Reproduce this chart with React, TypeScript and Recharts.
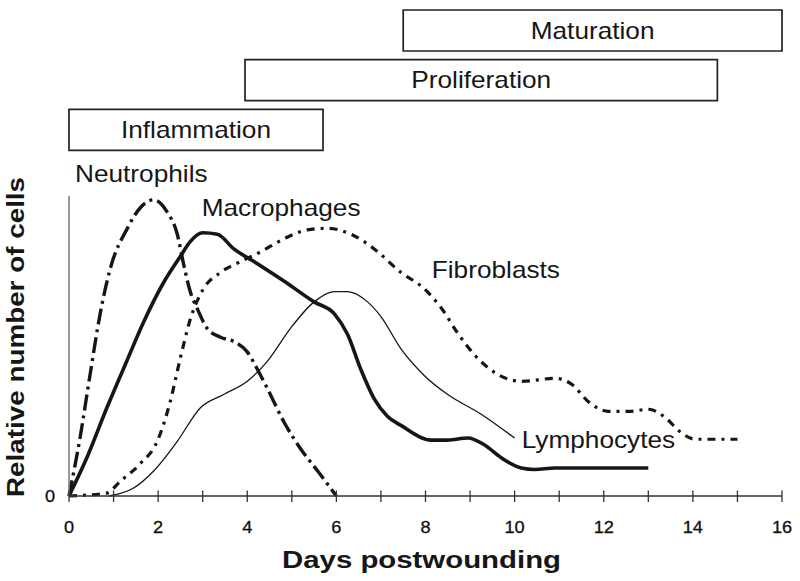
import React from 'react'
import {
  Bar,
  BarChart,
  LabelList,
  Line,
  LineChart,
  XAxis,
  YAxis,
} from 'recharts'

// wound healing phases (days)
const phaseNames = ['Maturation', 'Proliferation', 'Inflammation']
const phaseStart = [7.5, 3.95, 0]
const phaseEnd = [16, 14.55, 5.7]

const dayTicks = [0, 1, 2, 3, 4, 5, 6, 7, 8, 9, 10, 11, 12, 13, 14, 15, 16]

const neutrophilDays = [0, 0.25, 0.47, 0.7, 0.92, 1.31, 1.6, 1.9, 2.2, 2.43, 2.57, 2.72, 2.87, 3.1, 3.4, 3.7, 4.0, 4.23, 4.45, 4.83, 5.2, 5.58, 6.0]
const neutrophilValues = [0, 20, 41, 62, 77, 91, 98, 100.7, 96.6, 89, 79, 69.5, 64, 57, 54, 52.5, 49, 43, 36.6, 25, 16, 8.5, 0]

const macrophageDays = [0, 0.4, 0.85, 1.3, 1.67, 2.12, 2.5, 2.72, 3.0, 3.33, 3.7, 4.15, 4.83, 5.5, 5.95, 6.25, 6.55, 6.85, 7.15, 7.45, 8.13, 8.5, 8.95, 9.3, 9.7, 10.15, 10.45, 10.9, 13.0]
const macrophageValues = [0, 13, 30, 46, 59, 72.5, 81.5, 86.5, 89.5, 89, 84, 79.7, 73, 66, 62, 55, 43, 33, 27, 24, 19, 19, 19.7, 17.6, 13, 9.5, 9, 9.5, 9.5]

const fibroblastDays = [0, 0.85, 1.15, 1.6, 1.98, 2.27, 2.5, 2.72, 3.02, 3.4, 3.85, 4.3, 4.83, 5.35, 5.8, 6.33, 6.85, 7.45, 7.97, 8.35, 8.74, 9.1, 9.55, 10.15, 10.9, 11.28, 11.66, 12.1, 12.6, 13.0, 13.4, 13.7, 14.05, 15.0]
const fibroblastValues = [0, 1, 5, 11, 18.6, 32, 47, 60, 70.5, 76, 79.7, 83, 87.5, 90.5, 91, 89, 84, 76, 70.5, 64, 55, 48, 42, 39, 40, 38, 32, 28.8, 28.8, 29.5, 26.4, 22, 19.3, 19.3]

const lymphocyteDays = [0.9, 1.45, 1.9, 2.43, 2.95, 3.47, 4.0, 4.45, 4.97, 5.5, 5.95, 6.25, 6.7, 7.0, 7.45, 7.97, 8.5, 9.25, 10.0]
const lymphocyteValues = [0, 2.7, 8.5, 18.6, 30, 34.5, 39, 45.8, 57, 66, 69.5, 69.5, 66, 61, 50, 41, 34.5, 27.8, 19.7]

const FONT = "'Liberation Sans', Arial, Helvetica, sans-serif"
const INK = '#161616'
const WIDE = 1.14

const zip = (days: number[], values: number[]) =>
  days.map((day, i) => ({ day, value: values[i] }))

const phases = phaseNames.map((phase, i) => ({
  phase,
  span: [phaseStart[i], phaseEnd[i]],
}))

function PhaseLabel(props: any) {
  const { x, y, width, height, value } = props
  return (
    <text
      transform={`translate(${x + width / 2},${y + height / 2 + 8}) scale(${WIDE},1)`}
      textAnchor="middle"
      fontFamily={FONT}
      fontSize={23}
      fill={INK}
    >
      {value}
    </text>
  )
}

function seriesLabel(name: string, anchor: number, dx: number, dy: number) {
  return (props: any) => {
    if (props.index !== anchor) return null
    return (
      <text
        transform={`translate(${props.x + dx},${props.y + dy}) scale(${WIDE},1)`}
        fontFamily={FONT}
        fontSize={23}
        fill={INK}
      >
        {name}
      </text>
    )
  }
}

function DayTick(props: any) {
  const { x, y, payload } = props
  const day = payload.value
  return (
    <g>
      <line x1={x} x2={x} y1={y - 5.5} y2={y + 6} stroke="#333" strokeWidth={1.3} />
      {day % 2 === 0 && (
        <text
          transform={`translate(${x},${y + 37.3}) scale(1.1,1)`}
          textAnchor="middle"
          fontFamily={FONT}
          fontSize={16.5}
          fill="#111"
          stroke="#111"
          strokeWidth={0.3}
        >
          {day}
        </text>
      )}
    </g>
  )
}

function ZeroTick(props: any) {
  const { x, y, payload } = props
  return (
    <text
      transform={`translate(${x - 19},${y + 6}) scale(1.1,1)`}
      textAnchor="middle"
      fontFamily={FONT}
      fontSize={16.5}
      fill="#111"
      stroke="#111"
      strokeWidth={0.3}
    >
      {payload.value}
    </text>
  )
}

function XTitle(props: any) {
  const { viewBox } = props
  return (
    <text
      transform={`translate(${viewBox.x + viewBox.width / 2 - 4},${viewBox.y + 72}) scale(1.25,1)`}
      textAnchor="middle"
      fontFamily={FONT}
      fontSize={23.5}
      fontWeight="bold"
      fill={INK}
    >
      Days postwounding
    </text>
  )
}

function YTitle(props: any) {
  const { viewBox } = props
  return (
    <text
      transform={`translate(24,${viewBox.y + viewBox.height / 2 - 9}) rotate(-90) scale(1.16,1)`}
      textAnchor="middle"
      fontFamily={FONT}
      fontSize={24}
      fontWeight="bold"
      fill={INK}
    >
      Relative number of cells
    </text>
  )
}

export default function App() {
  const neutrophils = zip(neutrophilDays, neutrophilValues)
  const macrophages = zip(macrophageDays, macrophageValues)
  const fibroblasts = zip(fibroblastDays, fibroblastValues)
  const lymphocytes = zip(lymphocyteDays, lymphocyteValues)

  return (
    <div style={{ position: 'absolute', left: 0, top: 0, width: 800, height: 581, background: '#fff' }}>
      <div style={{ position: 'absolute', left: 0, top: 0 }}>
        <LineChart width={800} height={581} margin={{ top: 196, right: 18, bottom: 0, left: 0 }}>
          <XAxis
            type="number"
            dataKey="day"
            domain={[0, 16]}
            ticks={dayTicks}
            interval={0}
            height={85}
            tickSize={0}
            tickMargin={0}
            tick={<DayTick />}
            axisLine={{ stroke: '#333', strokeWidth: 1.5 }}
            label={{ content: <XTitle /> }}
          />
          <YAxis
            type="number"
            domain={[0, 102]}
            ticks={[0]}
            width={69}
            tickLine={false}
            tickSize={0}
            tickMargin={0}
            tick={<ZeroTick />}
            axisLine={{ stroke: '#777', strokeWidth: 1.5 }}
            label={{ content: <YTitle /> }}
          />
          <Line
            data={fibroblasts}
            dataKey="value"
            type="monotone"
            stroke={INK}
            strokeWidth={3.2}
            strokeDasharray="8 6 3 6"
            dot={false}
            activeDot={false}
            isAnimationActive={false}
            label={seriesLabel('Fibroblasts', 18, 7.6, -10.4)}
          />
          <Line
            data={lymphocytes}
            dataKey="value"
            type="monotone"
            stroke={INK}
            strokeWidth={1.3}
            dot={false}
            activeDot={false}
            isAnimationActive={false}
            label={seriesLabel('Lymphocytes', lymphocytes.length - 1, 7.1, 9.9)}
          />
          <Line
            data={neutrophils}
            dataKey="value"
            type="monotone"
            stroke={INK}
            strokeWidth={3.4}
            strokeDasharray="16 5 3 5"
            dot={false}
            activeDot={false}
            isAnimationActive={false}
            label={seriesLabel('Neutrophils', 7, -78.7, -18.1)}
          />
          <Line
            data={macrophages}
            dataKey="value"
            type="monotone"
            stroke={INK}
            strokeWidth={3.6}
            dot={false}
            activeDot={false}
            isAnimationActive={false}
            label={seriesLabel('Macrophages', 8, -1, -17)}
          />
        </LineChart>
      </div>
      <div style={{ position: 'absolute', left: 0, top: 0 }}>
        <BarChart
          width={800}
          height={160}
          layout="vertical"
          data={phases}
          margin={{ top: 6, right: 18, bottom: 5, left: 69 }}
        >
          <XAxis type="number" domain={[0, 16]} hide />
          <YAxis type="category" dataKey="phase" hide width={0} />
          <Bar
            dataKey="span"
            barSize={41}
            fill="#fff"
            stroke="#222"
            strokeWidth={1.7}
            isAnimationActive={false}
          >
            <LabelList dataKey="phase" content={<PhaseLabel />} />
          </Bar>
        </BarChart>
      </div>
    </div>
  )
}
